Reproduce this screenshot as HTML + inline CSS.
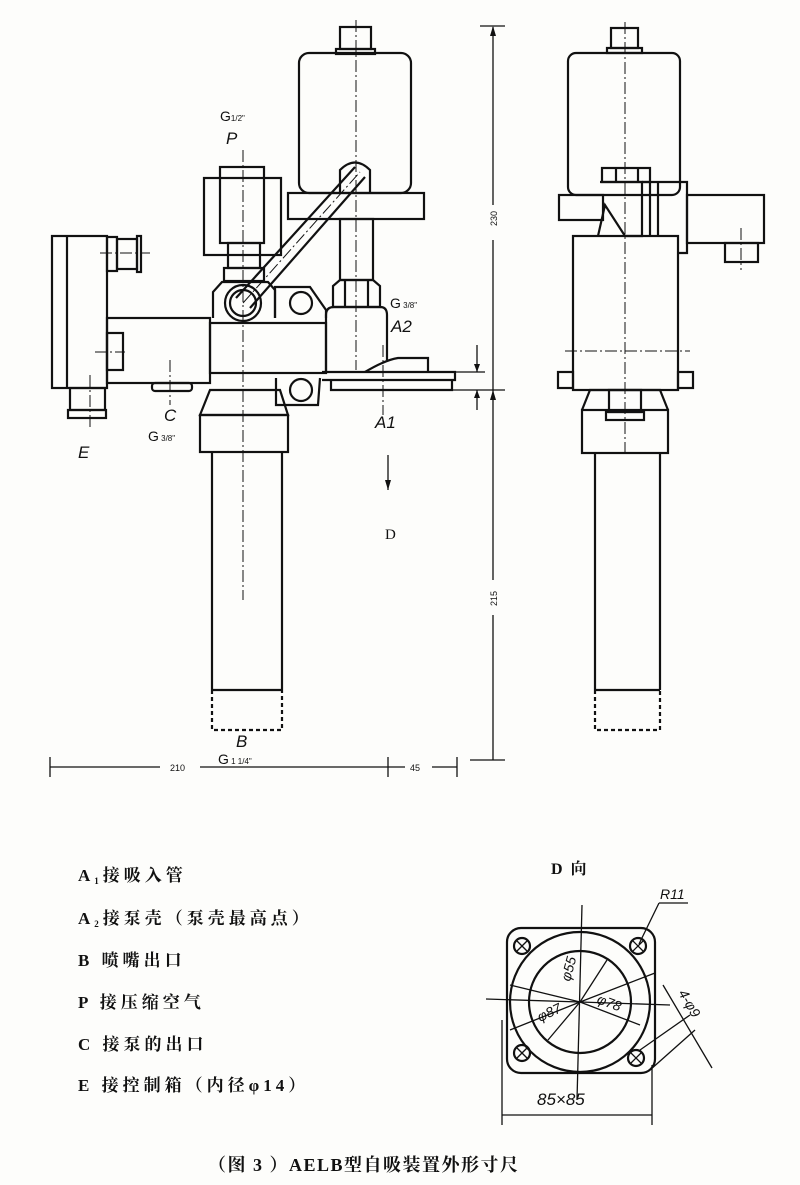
<!DOCTYPE html>
<html><head><meta charset="utf-8"><style>
html,body{margin:0;padding:0;background:#fdfdfb;}
svg{display:block}
text{font-family:"Liberation Sans","Noto Sans CJK SC",sans-serif;fill:#111}
text.s,.s text{font-family:"Liberation Serif","Noto Serif CJK SC","Noto Sans CJK SC",serif;font-weight:bold}
</style></head><body>
<svg width="800" height="1185" viewBox="0 0 800 1185" xmlns="http://www.w3.org/2000/svg">
<g fill="none" stroke="#111" stroke-width="2.2">
<rect x="340" y="27" width="31" height="22"/>
<rect x="336" y="49" width="39" height="5"/>
<rect x="299" y="53" width="112" height="140" rx="10"/>
<rect x="288" y="193" width="136" height="26"/>
<rect x="340" y="219" width="33" height="61"/>
<path d="M333 307 L333 286 L340 280 L373 280 L380 286 L380 307 Z"/>
<line x1="345" y1="280" x2="345" y2="307"/><line x1="368" y1="280" x2="368" y2="307"/>
<path d="M326 372 L326 315 Q326 307 334 307 L380 307 Q387 307 387 315 L387 360"/>
<path d="M340 193 L340 170 Q355 155 370 170 L370 193"/>
<rect x="107" y="318" width="103" height="65"/>
<rect x="107" y="333" width="16" height="37"/>
<rect x="210" y="323" width="116" height="50"/>
<rect x="52" y="236" width="55" height="152"/>
<line x1="67" y1="236" x2="67" y2="388"/>
<rect x="107" y="237" width="10" height="34"/>
<rect x="117" y="239" width="20" height="30"/>
<rect x="137" y="236" width="4" height="36"/>
<rect x="70" y="388" width="35" height="22"/>
<rect x="68" y="410" width="38" height="8"/>
<rect x="152" y="383" width="40" height="8" rx="3"/>
<rect x="204" y="178" width="77" height="77"/>
<rect x="220" y="167" width="44" height="76"/>
<rect x="228" y="243" width="32" height="25"/>
<rect x="224" y="268" width="40" height="13"/>
<path d="M213 318 L213 292 L222 282 L268 282 L275 290 L275 318"/>
<circle cx="243" cy="303" r="18"/><circle cx="243" cy="303" r="13"/>
<path d="M275 318 L275 287 L310 287 L326 310 L326 318"/>
<circle cx="301" cy="303" r="11"/>
<line x1="236" y1="298" x2="355" y2="167"/>
<line x1="250" y1="308" x2="365" y2="177"/>
<path d="M276 378 L276 405 L318 405 L320 378"/>
<circle cx="301" cy="390" r="11"/>
<path d="M322 372 L455 372 L455 380 L322 380"/>
<path d="M331 380 L331 390 L452 390 L452 380"/>
<path d="M365 372 Q385 360 398 358 L428 358 L428 372"/>
<path d="M210 390 L280 390 L288 415 L200 415 Z"/>
<rect x="200" y="415" width="88" height="37"/>
<line x1="212" y1="452" x2="212" y2="690"/><line x1="282" y1="452" x2="282" y2="690"/>
<line x1="212" y1="690" x2="282" y2="690"/>
<path d="M212 690 V730 H282 V690" stroke-dasharray="4 3"/>
<rect x="611" y="28" width="27" height="20"/>
<rect x="607" y="48" width="35" height="5"/>
<rect x="568" y="53" width="112" height="142" rx="8"/>
<rect x="559" y="195" width="44" height="25"/>
<rect x="602" y="168" width="48" height="14"/>
<line x1="616" y1="168" x2="616" y2="182"/><line x1="638" y1="168" x2="638" y2="182"/>
<path d="M600 182 L642 182 L642 236 L625 236 L605 205 L598 236"/>
<path d="M642 182 L687 182 L687 253 L678 253"/>
<line x1="650" y1="182" x2="650" y2="236"/><line x1="658" y1="182" x2="658" y2="236"/>
<rect x="687" y="195" width="77" height="48"/>
<rect x="725" y="243" width="33" height="19"/>
<rect x="573" y="236" width="105" height="154"/>
<rect x="558" y="372" width="15" height="16"/><rect x="678" y="372" width="15" height="16"/>
<path d="M582 410 L590 390 L660 390 L668 410"/>
<rect x="582" y="410" width="86" height="43"/>
<rect x="609" y="390" width="32" height="22"/>
<rect x="606" y="412" width="38" height="8"/>
<line x1="595" y1="453" x2="595" y2="690"/><line x1="660" y1="453" x2="660" y2="690"/>
<line x1="595" y1="690" x2="660" y2="690"/>
<path d="M595 690 V730 H660 V690" stroke-dasharray="4 3"/>
</g>
<g stroke="#111" stroke-width="1" stroke-dasharray="12 3 2 3" fill="none">
<line x1="356" y1="20" x2="356" y2="370"/>
<line x1="243" y1="150" x2="243" y2="600"/>
<line x1="90" y1="375" x2="90" y2="430"/>
<line x1="170" y1="360" x2="170" y2="405"/>
<line x1="383" y1="345" x2="383" y2="415"/>
<line x1="625" y1="22" x2="625" y2="455"/>
<line x1="565" y1="351" x2="690" y2="351"/>
<line x1="741" y1="228" x2="741" y2="270"/>
<line x1="100" y1="253" x2="150" y2="253"/>
<line x1="95" y1="352" x2="125" y2="352"/>
<line x1="243" y1="303" x2="360" y2="172"/>
</g>
<g stroke="#111" stroke-width="1.3" fill="none">
<line x1="493" y1="27" x2="493" y2="205"/><line x1="493" y1="240" x2="493" y2="580"/><line x1="493" y1="615" x2="493" y2="760"/>
<line x1="480" y1="26" x2="505" y2="26"/><line x1="470" y1="760" x2="505" y2="760"/>
<line x1="388" y1="390" x2="505" y2="390"/><line x1="455" y1="372" x2="485" y2="372"/>
<line x1="477" y1="345" x2="477" y2="372"/><line x1="477" y1="390" x2="477" y2="410"/>
<line x1="50" y1="767" x2="160" y2="767"/><line x1="200" y1="767" x2="405" y2="767"/><line x1="432" y1="767" x2="457" y2="767"/>
<line x1="50" y1="757" x2="50" y2="777"/><line x1="388" y1="757" x2="388" y2="777"/><line x1="457" y1="757" x2="457" y2="777"/>
<line x1="388" y1="455" x2="388" y2="490"/>
</g>
<g fill="#111">
<path d="M493 26 l-3 10 h6z"/><path d="M493 390 l-3 10 h6z"/>
<path d="M388 490 l-3 -10 h6z"/>
<path d="M477 372 l-3 -8 h6z"/><path d="M477 390 l-3 8 h6z"/>
</g>
<g font-size="9">
<text x="497" y="226" transform="rotate(-90 497 226)">230</text>
<text x="497" y="606" transform="rotate(-90 497 606)">215</text>
<text x="170" y="771">210</text><text x="410" y="771">45</text>
</g>
<g font-size="17" font-style="italic">
<text x="226" y="144">P</text><text x="391" y="332">A2</text><text x="375" y="428">A1</text>
<text x="164" y="421">C</text><text x="78" y="458">E</text><text x="236" y="747">B</text>
</g>
<g font-size="14">
<text x="220" y="121">G<tspan font-size="8">1/2"</tspan></text>
<text x="390" y="308">G<tspan font-size="8"> 3/8"</tspan></text>
<text x="148" y="441">G<tspan font-size="8"> 3/8"</tspan></text>
<text x="218" y="764">G<tspan font-size="8"> 1 1/4"</tspan></text>
</g>
<text x="385" y="539" font-size="15" class="s" style="font-weight:normal">D</text>
<text x="551" y="874" font-size="16" class="s" letter-spacing="2">D 向</text>
<g fill="none" stroke="#111" stroke-width="2.2">
<rect x="507" y="928" width="148" height="145" rx="14"/>
<circle cx="580" cy="1002" r="70"/><circle cx="580" cy="1002" r="51"/>
<circle cx="522" cy="946" r="8"/><circle cx="638" cy="946" r="8"/>
<circle cx="522" cy="1053" r="8"/><circle cx="636" cy="1058" r="8"/>
</g>
<g stroke="#111" stroke-width="1.3" fill="none">
<line x1="516" y1="940" x2="528" y2="952"/><line x1="528" y1="940" x2="516" y2="952"/>
<line x1="632" y1="940" x2="644" y2="952"/><line x1="644" y1="940" x2="632" y2="952"/>
<line x1="516" y1="1047" x2="528" y2="1059"/><line x1="528" y1="1047" x2="516" y2="1059"/>
<line x1="630" y1="1052" x2="642" y2="1064"/><line x1="642" y1="1052" x2="630" y2="1064"/>
<line x1="582" y1="905" x2="577" y2="1100"/>
<line x1="486" y1="999" x2="580" y2="1002"/>
<line x1="580" y1="1002" x2="510" y2="985"/><line x1="580" y1="1002" x2="640" y2="1025"/>
<line x1="580" y1="1002" x2="548" y2="1040"/><line x1="580" y1="1002" x2="607" y2="960"/>
<line x1="580" y1="1002" x2="510" y2="1030"/><line x1="580" y1="1002" x2="655" y2="973"/>
<line x1="580" y1="1002" x2="670" y2="1005"/>
<line x1="639" y1="944" x2="659" y2="903"/><line x1="659" y1="903" x2="688" y2="903"/>
<line x1="663" y1="985" x2="712" y2="1068"/>
<line x1="640" y1="1050" x2="690" y2="1015"/><line x1="650" y1="1070" x2="695" y2="1030"/>
<line x1="502" y1="1020" x2="502" y2="1125"/><line x1="652" y1="1065" x2="652" y2="1125"/>
<line x1="502" y1="1115" x2="652" y2="1115"/>
</g>
<g font-size="14" font-style="italic">
<text x="570" y="982" transform="rotate(-75 570 982)">φ55</text>
<text x="540" y="1022" transform="rotate(-25 540 1022)">φ87</text>
<text x="596" y="1003" transform="rotate(20 596 1003)">φ78</text>
<text x="678" y="993" transform="rotate(60 678 993)">4-φ9</text>
<text x="660" y="899">R11</text>
<text x="537" y="1105" font-size="17">85×85</text>
</g>
<g font-size="17" class="s" letter-spacing="4">
<text x="78" y="881">A<tspan font-size="9" dy="3">1</tspan><tspan dy="-3">接吸入管</tspan></text>
<text x="78" y="924">A<tspan font-size="9" dy="3">2</tspan><tspan dy="-3">接泵壳（泵壳最高点）</tspan></text>
<text x="78" y="966">B 喷嘴出口</text>
<text x="78" y="1008">P 接压缩空气</text>
<text x="78" y="1050">C 接泵的出口</text>
<text x="78" y="1091">E 接控制箱（内径φ14）</text>
</g>
<text x="208" y="1171" font-size="18" class="s" letter-spacing="1.5">（图 3 ）AELB型自吸装置外形寸尺</text>
</svg>
</body></html>
